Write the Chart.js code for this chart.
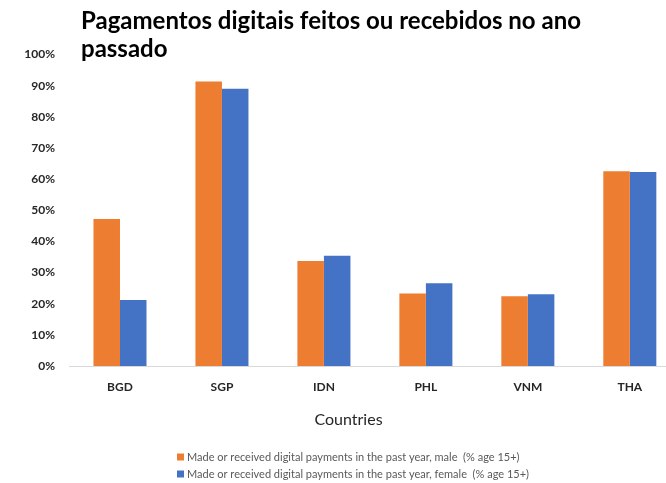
<!DOCTYPE html>
<html><head><meta charset="utf-8">
<script src="https://cdn.jsdelivr.net/npm/chart.js@4/dist/chart.umd.min.js"></script>
<style>
html,body{margin:0;padding:0;overflow:hidden;background:#fff;width:666px;height:483px}
#wrap{width:666px;height:483px;overflow:hidden;position:relative}
canvas{display:block}
</style></head><body>
<div id="wrap"><canvas id="c" width="700" height="483" style="width:700px;height:483px"></canvas></div>
<script>
const titleLines = ["Pagamentos digitais feitos ou recebidos no ano", "passado"];
const categories = ["BGD", "SGP", "IDN", "PHL", "VNM", "THA"];
const maleValues = [47.2, 91.3, 33.7, 23.3, 22.4, 62.5];
const femaleValues = [21.2, 89.0, 35.4, 26.6, 23.0, 62.3];
const seriesLabels = [
  "Made or received digital payments in the past year, male  (% age 15+)",
  "Made or received digital payments in the past year, female  (% age 15+)"
];
const xAxisTitle = "Countries";
const yTickLabels = ["0%", "10%", "20%", "30%", "40%", "50%", "60%", "70%", "80%", "90%", "100%"];

const overlay = {
  id: 'overlay',
  afterDraw(chart) {
    const ctx = chart.ctx;
    ctx.save();
    ctx.fillStyle = '#000';
    ctx.font = 'bold 24px Lato';
    ctx.textAlign = 'left';
    ctx.textBaseline = 'alphabetic';
    titleLines.forEach((t, i) => ctx.fillText(t, 81, 29 + i * 28));
    ctx.font = '16px Lato';
    ctx.fillStyle = '#262626';
    ctx.textAlign = 'center';
    ctx.fillText(xAxisTitle, 348.5, 425);
    ctx.font = '11px Lato';
    ctx.textAlign = 'left';
    ctx.textBaseline = 'middle';
    chart.data.datasets.forEach((ds, i) => {
      const y = 457 + i * 17;
      ctx.fillStyle = ds.backgroundColor;
      ctx.fillRect(177, y - 3.5, 7, 7);
      ctx.fillStyle = '#595959';
      ctx.fillText(ds.label, 187, y);
    });
    ctx.restore();
  }
};

new Chart(document.getElementById('c'), {
  type: 'bar',
  data: {
    labels: categories,
    datasets: [
      { label: seriesLabels[0], data: maleValues, backgroundColor: '#ED7D31', borderWidth: 0 },
      { label: seriesLabels[1], data: femaleValues, backgroundColor: '#4472C4', borderWidth: 0 }
    ]
  },
  options: {
    responsive: false,
    animation: false,
    devicePixelRatio: 1,
    categoryPercentage: 0.52,
    barPercentage: 1.0,
    layout: { padding: { top: 54.5, right: 19.2, bottom: 77, left: 0 } },
    plugins: { legend: { display: false }, title: { display: false }, tooltip: { enabled: false } },
    scales: {
      x: {
        grid: { display: false, drawTicks: false },
        border: { display: true, color: '#d9d9d9', width: 1 },
        ticks: { color: '#262626', padding: 14, font: { family: 'Lato', size: 12, weight: 'bold' } },
        afterFit: s => { s.height = 40; }
      },
      y: {
        min: 0, max: 100,
        grid: { display: false, drawTicks: false },
        border: { display: false },
        ticks: {
          stepSize: 10, color: '#262626', padding: 14,
          font: { family: 'Lato', size: 12, weight: 'bold' },
          callback: (v) => yTickLabels[Math.round(v / 10)]
        },
        afterFit: s => { s.width = 69; }
      }
    }
  },
  plugins: [overlay]
});
</script>
</body></html>
